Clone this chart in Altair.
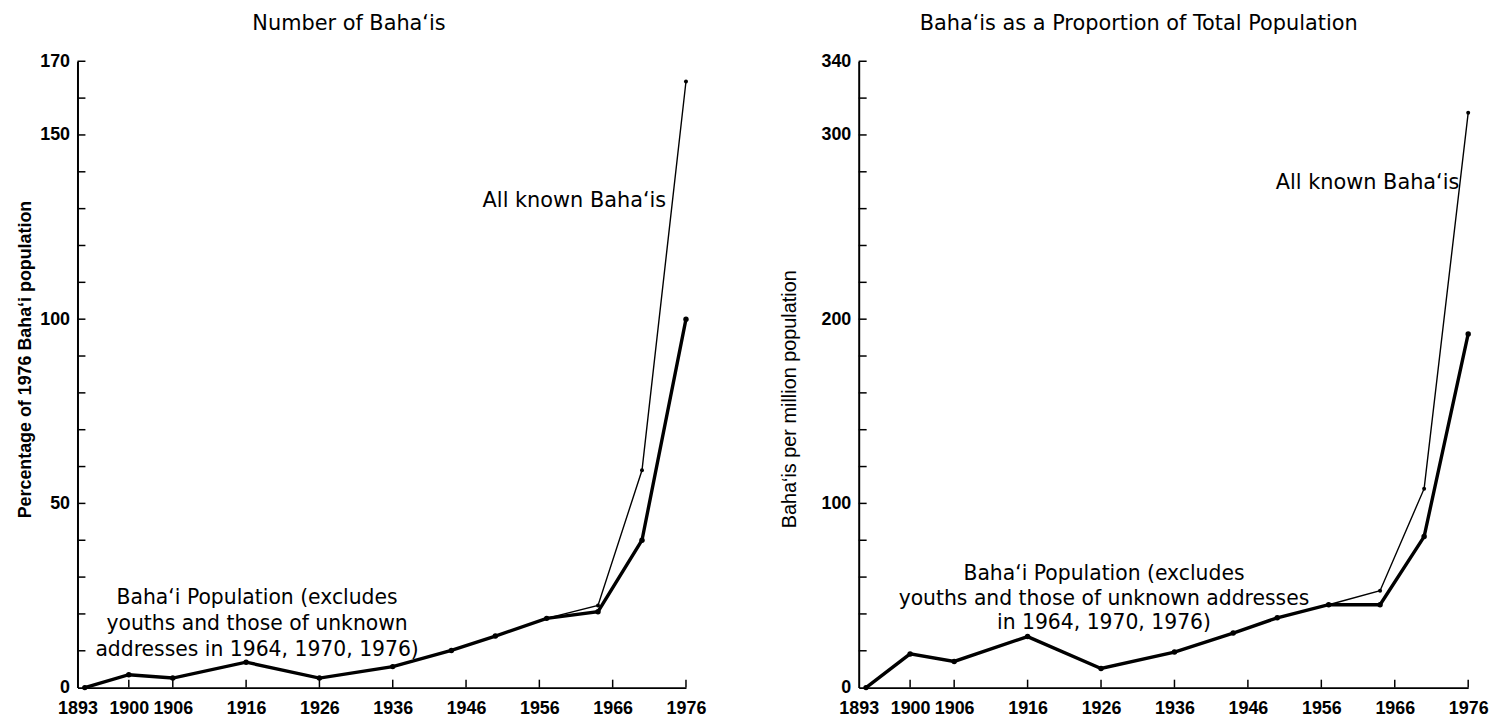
import altair as alt
import pandas as pd

# ---------------- data ----------------
years = [1894, 1900, 1906, 1916, 1926, 1936, 1944, 1950, 1957, 1964, 1970, 1976]

# Left panel: percentage of 1976 Baha'i population
left_population = [0, 3.5, 2.6, 6.9, 2.6, 5.7, 10.1, 14.0, 18.8, 20.6, 40, 100]
left_all_known = [0, 3.5, 2.6, 6.9, 2.6, 5.7, 10.1, 14.0, 18.8, 22.3, 59, 164.5]

# Right panel: Baha'is per million population
right_population = [0, 18.3, 14.2, 27.7, 10.4, 19.3, 29.6, 37.9, 45, 45, 82, 192]
right_all_known = [0, 18.3, 14.2, 27.7, 10.4, 19.3, 29.6, 37.9, 45, 52.6, 108, 312]

x_tick_labels = [1893, 1900, 1906, 1916, 1926, 1936, 1946, 1956, 1966, 1976]
left_y_labels = [0, 50, 100, 150, 170]
left_y_minor = list(range(10, 171, 10))
right_y_labels = [0, 100, 200, 300, 340]
right_y_minor = list(range(20, 341, 20))

title_left = "Number of Baha‘is"
title_right = "Baha‘is as a Proportion of  Total Population"
ytitle_left = "Percentage of 1976 Baha‘i population"
ytitle_right = "Baha‘is per million population"
label_all = "All known Baha‘is"
label_pop_left = ["Baha‘i Population (excludes", "youths and those of unknown",
                  "addresses in 1964, 1970, 1976)"]
label_pop_right = ["Baha‘i Population (excludes", "youths and those of unknown addresses",
                   "in 1964, 1970, 1976)"]

H = 631
LABEL_FONT = "Liberation Sans"
ANN_FONT = "DejaVu Sans"


def panel(pop, allk, ymax, ylabels, yminor, width, title, title_dx,
          ytitle, ytitle_weight, ytitle_size, ytitle_x, ytitle_y,
          all_x, all_y, pop_x, pop_y, pop_lines, pop_lh):
    n = len(years)
    df = pd.DataFrame({
        "year": years + years,
        "value": allk + pop,
        "series": ["all"] * n + ["pop"] * n,
    })
    xs = alt.Scale(domain=[1893, 1976], nice=False, zero=False)
    ys = alt.Scale(domain=[0, ymax], nice=False, zero=True)
    xaxis = alt.Axis(values=x_tick_labels, title=None, ticks=False, tickSize=0,
                     labelPadding=12, labelFont=LABEL_FONT, labelFontSize=18,
                     labelFontWeight="bold", labelColor="black", grid=False,
                     labelFlush=False, labelOverlap=False, format="d",
                     domainColor="black", domainWidth=2)
    yaxis = alt.Axis(values=ylabels, title=ytitle, ticks=False, tickSize=0,
                     labelPadding=8, labelFont=LABEL_FONT, labelFontSize=18,
                     labelFontWeight="bold", labelColor="black", grid=False,
                     labelFlush=False, labelOverlap=False, format="d",
                     domainColor="black", domainWidth=2,
                     titleFont=LABEL_FONT, titleFontSize=ytitle_size,
                     titleFontWeight=ytitle_weight, titleColor="black",
                     titleAngle=270, titleX=ytitle_x, titleY=ytitle_y,
                     titleBaseline="middle", titleAlign="center")

    def X(field):
        return alt.X(field, scale=xs, axis=xaxis)

    def Y(field):
        return alt.Y(field, scale=ys, axis=yaxis)

    base = alt.Chart(df)
    thin = base.transform_filter("datum.series == 'all'")
    bold = base.transform_filter("datum.series == 'pop'")
    thin_line = thin.mark_line(color="black", strokeWidth=1.4).encode(
        x=X("year:Q"), y=Y("value:Q"))
    thin_pts = thin.mark_circle(color="black", size=16, opacity=1).encode(
        x=X("year:Q"), y=Y("value:Q"))
    bold_line = bold.mark_line(color="black", strokeWidth=3.4).encode(
        x=X("year:Q"), y=Y("value:Q"))
    bold_pts = bold.mark_circle(color="black", size=30, opacity=1).encode(
        x=X("year:Q"), y=Y("value:Q"))

    ytick = alt.Chart(pd.DataFrame({"value": yminor})).mark_rule(
        color="black", strokeWidth=1.5).encode(
        y=Y("value:Q"), x=alt.value(0), x2=alt.value(8))
    xtick = alt.Chart(pd.DataFrame({"year": x_tick_labels[1:]})).mark_rule(
        color="black", strokeWidth=1.5).encode(
        x=X("year:Q"), y=alt.value(H), y2=alt.value(H - 8))

    all_txt = alt.Chart(pd.DataFrame({"t": [label_all]})).mark_text(
        align="right", baseline="middle", font=ANN_FONT, fontSize=21,
        color="black").encode(
        x=alt.X(datum=all_x, type="quantitative", scale=xs, axis=xaxis),
        y=alt.Y(datum=all_y, type="quantitative", scale=ys, axis=yaxis),
        text="t:N")
    pop_txt = alt.Chart(pd.DataFrame({"t": [0]})).mark_text(
        align="center", baseline="middle", font=ANN_FONT, fontSize=20.5,
        lineHeight=pop_lh, color="black", text=pop_lines).encode(
        x=alt.X(datum=pop_x, type="quantitative", scale=xs, axis=xaxis),
        y=alt.Y(datum=pop_y, type="quantitative", scale=ys, axis=yaxis))

    return alt.layer(thin_line, thin_pts, bold_line, bold_pts, ytick, xtick,
                     all_txt, pop_txt).properties(
        width=width, height=H,
        title=alt.TitleParams(text=title, font=ANN_FONT, fontSize=21,
                              fontWeight="normal", color="black", anchor="middle",
                              frame="group", dx=title_dx, offset=-3,
                              baseline="bottom"))


left = panel(left_population, left_all_known, 170, left_y_labels, left_y_minor, 613,
             title_left, -33, ytitle_left, "bold", 18, -52, 300,
             1973.3, 132.1, 1917.5, 24.4, label_pop_left, 26.5)
right = panel(right_population, right_all_known, 340, right_y_labels, right_y_minor, 614,
              title_right, -25, ytitle_right, "normal", 20, -70, 340,
              1974.8, 273.9, 1926.4, 61.4, label_pop_right, 24.5)

chart = alt.hconcat(left, right, spacing=174, bounds="flush").properties(
    padding={"left": 9, "top": 3, "right": 5, "bottom": 5}
).configure_view(stroke=None)

chart.save("out.html", embed_options={"renderer": "svg", "actions": False})
